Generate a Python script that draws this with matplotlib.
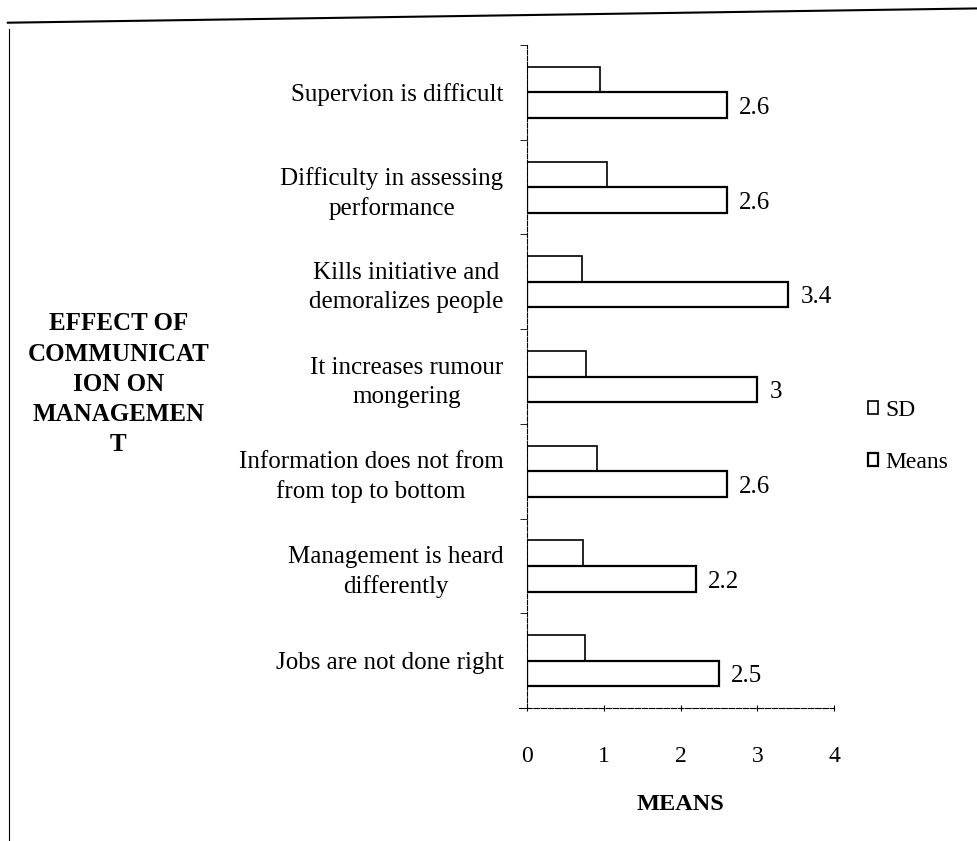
import matplotlib.pyplot as plt
from matplotlib.lines import Line2D
import numpy as np

# data
categories = ['Supervion is difficult',
              'Difficulty in assessing\nperformance',
              'Kills initiative and\ndemoralizes people',
              'It increases rumour\nmongering',
              'Information does not from\nfrom top to bottom',
              'Management is heard\ndifferently',
              'Jobs are not done right']
sd = [0.95, 1.04, 0.72, 0.77, 0.91, 0.73, 0.76]
means = [2.6, 2.6, 3.4, 3, 2.6, 2.2, 2.5]
mean_labels = ['2.6', '2.6', '3.4', '3', '2.6', '2.2', '2.5']

plt.rcParams['font.family'] = ['Liberation Serif', 'DejaVu Serif']

fig = plt.figure(figsize=(9.78, 8.41), dpi=100)
ax = fig.add_axes([0.539, 0.158, 0.314, 0.7885])

y = np.arange(len(categories))
h = 0.27
ax.barh(y - h / 2, sd, height=h, color='white', edgecolor='black', linewidth=1.2, label='SD')
ax.barh(y + h / 2, means, height=h, color='white', edgecolor='black', linewidth=1.6, label='Means')

for yi, v, lab in zip(y, means, mean_labels):
    ax.text(v + 0.16, yi + h / 2 + 0.03, lab, va='center', ha='left', fontsize=18)

ax.set_xlim(0, 4)
ax.set_ylim(6.5, -0.5)
ax.set_yticks(y)
ax.set_yticklabels(categories, fontsize=18, multialignment='center', linespacing=1.4)
ax.set_yticks(np.arange(-0.5, 7, 1), minor=True)
ax.tick_params(axis='y', which='major', length=0, pad=17)
ax.tick_params(axis='y', which='minor', length=5, direction='out')
ax.set_xticks([0, 1, 2, 3, 4])
ax.tick_params(axis='x', length=4, direction='inout', pad=25, labelsize=17)

for s in ['top', 'right']:
    ax.spines[s].set_visible(False)
ax.spines['left'].set_linestyle((0, (4, 1.5)))
ax.spines['bottom'].set_linestyle((0, (5, 1.5)))
ax.spines['bottom'].set_bounds(-0.1, 4.0)

ax.set_xlabel('MEANS', fontsize=17.5, fontweight='bold', labelpad=20)

fig.text(0.121, 0.543, 'EFFECT OF\nCOMMUNICAT\nION ON\nMANAGEMEN\nT', ha='center', va='center',
         fontsize=18, fontweight='bold', linespacing=1.4)

leg = ax.legend(loc='center left', bbox_to_anchor=(1.04, 0.41), frameon=False, fontsize=17,
                handlelength=0.45, handleheight=0.45, handletextpad=0.3, labelspacing=1.3)

# page border lines
fig.add_artist(Line2D([0.008, 1], [0.973, 0.99], color='black', linewidth=1.5, transform=fig.transFigure))
fig.add_artist(Line2D([0.009, 0.009], [0.0, 0.965], color='black', linewidth=0.8, transform=fig.transFigure))

fig.savefig('out.png', dpi=100, facecolor='white')
